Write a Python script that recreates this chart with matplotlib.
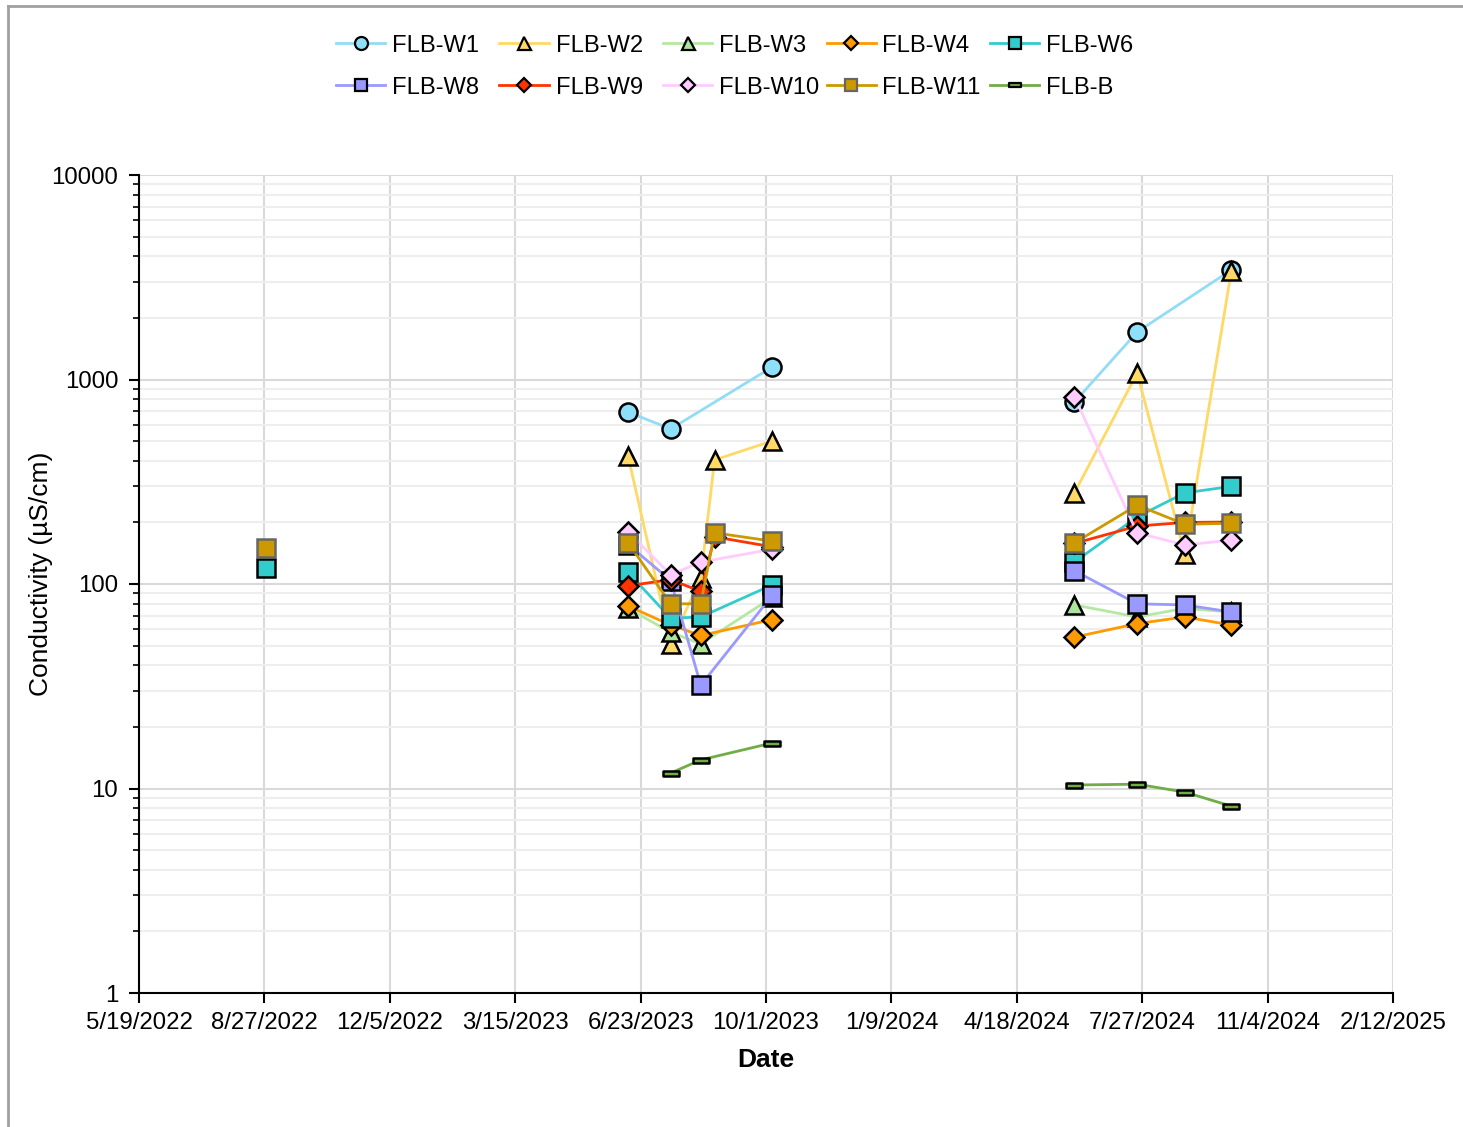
import datetime as dt
import numpy as np
import matplotlib
matplotlib.use("Agg")
import matplotlib.pyplot as plt
import matplotlib.dates as mdates
from matplotlib.lines import Line2D
from matplotlib.path import Path
from matplotlib.ticker import FixedLocator, LogLocator, NullFormatter

plt.rcParams['font.family'] = ['Liberation Sans', 'DejaVu Sans']

# sampling dates
w1_dates = ['2023-06-13', '2023-07-17', '2023-10-06', '2024-06-03', '2024-07-23', '2024-10-06']
w1_vals = [693, 573, 1151, 776, 1708, 3430]

w2_dates = ['2023-06-13', '2023-07-17', '2023-08-10', '2023-08-21', '2023-10-06',
            '2024-06-03', '2024-07-23', '2024-08-30', '2024-10-06']
w2_vals = [422, 51, 107, 404, 501, 279, 1076, 140, 3380]

w3_dates = ['2023-06-13', '2023-07-17', '2023-08-10', '2023-10-06',
            '2024-06-03', '2024-07-23', '2024-08-30', '2024-10-06']
w3_vals = [76, 58, 51, 86, 79, 69, 76, 73]

w4_dates = ['2023-06-13', '2023-07-17', '2023-08-10', '2023-10-06',
            '2024-06-03', '2024-07-23', '2024-08-30', '2024-10-06']
w4_vals = [78, 63, 56, 67, 55, 64, 69, 63]

w6_dates = ['2022-08-28', '2023-06-13', '2023-07-17', '2023-08-10', '2023-10-06',
            '2024-06-03', '2024-07-23', '2024-08-30', '2024-10-06']
w6_vals = [120, 114, 68, 69, 99, 128, 213, 279, 300]

w8_dates = ['2023-06-13', '2023-07-17', '2023-08-10', '2023-10-06',
            '2024-06-03', '2024-07-23', '2024-08-30', '2024-10-06']
w8_vals = [156, 104, 32, 88, 116, 80, 79, 73]

w9_dates = ['2023-06-13', '2023-07-17', '2023-08-10', '2023-08-21', '2023-10-06',
            '2024-06-03', '2024-07-23', '2024-08-30', '2024-10-06']
w9_vals = [98, 105, 92, 170, 152, 158, 192, 200, 201]

w10_dates = ['2023-06-13', '2023-07-17', '2023-08-10', '2023-10-06',
             '2024-06-03', '2024-07-23', '2024-08-30', '2024-10-06']
w10_vals = [180, 111, 128, 148, 821, 178, 155, 164]

w11_dates = ['2022-08-28', '2023-06-13', '2023-07-17', '2023-08-10', '2023-08-21', '2023-10-06',
             '2024-06-03', '2024-07-23', '2024-08-30', '2024-10-06']
w11_vals = [150, 159, 80, 80, 178, 162, 159, 243, 196, 198]

b_dates = ['2023-07-17', '2023-08-10', '2023-10-06',
           '2024-06-03', '2024-07-23', '2024-08-30', '2024-10-06']
b_vals = [11.9, 13.8, 16.7, 10.4, 10.5, 9.6, 8.2]

y_ticks = [1, 10, 100, 1000, 10000]
x_start = dt.date(2022, 5, 19)
x_step_days = 100
n_xticks = 11

# dash-shaped marker for the blank
dash = Path([(-1, -0.3), (1, -0.3), (1, 0.3), (-1, 0.3), (-1, -0.3)],
            [Path.MOVETO, Path.LINETO, Path.LINETO, Path.LINETO, Path.CLOSEPOLY])

series = [
    ("FLB-W1", w1_dates, w1_vals, '#92DDF5', 'o', '#8EE0FA', 'black', 13),
    ("FLB-W2", w2_dates, w2_vals, '#FFD966', '^', '#FFD966', 'black', 13),
    ("FLB-W3", w3_dates, w3_vals, '#B5E8A2', '^', '#ABE59B', 'black', 13),
    ("FLB-W4", w4_dates, w4_vals, '#FF9900', 'D', '#FF9900', 'black', 10),
    ("FLB-W6", w6_dates, w6_vals, '#33CCCC', 's', '#33CCCC', 'black', 12.5),
    ("FLB-W8", w8_dates, w8_vals, '#9999FF', 's', '#9999FF', 'black', 12.5),
    ("FLB-W9", w9_dates, w9_vals, '#FF3300', 'D', '#FF3300', 'black', 10),
    ("FLB-W10", w10_dates, w10_vals, '#FFCCFF', 'D', '#FFCCFF', 'black', 10),
    ("FLB-W11", w11_dates, w11_vals, '#CC9900', 's', '#CC9900', '#666666', 12.5),
    ("FLB-B", b_dates, b_vals, '#70AD47', dash, '#70AD47', 'black', 12),
]

W, H = 1463, 1127
fig = plt.figure(figsize=(W / 100, H / 100), dpi=100)
ax = fig.add_axes([139 / W, 1 - 993 / H, (1393 - 139) / W, (993 - 175) / H])


def with_gaps(dates, vals, max_gap=120):
    # break the line between sampling campaigns
    xs, ys = [], []
    prev = None
    for d, v in zip(dates, vals):
        day = dt.date.fromisoformat(d)
        if prev is not None and (day - prev).days > max_gap:
            xs.append(mdates.date2num(prev + dt.timedelta(days=1)))
            ys.append(np.nan)
        xs.append(mdates.date2num(day))
        ys.append(v)
        prev = day
    return xs, ys


for name, dates, vals, lc, mk, fc, ec, ms in series:
    xs, ys = with_gaps(dates, vals)
    ax.plot(xs, ys, color=lc, lw=2.0, marker=mk, markersize=ms,
            markerfacecolor=fc, markeredgecolor=ec, markeredgewidth=1.8, zorder=3)

ax.set_yscale('log')
ax.set_ylim(1, 10000)
ax.yaxis.set_major_locator(FixedLocator(y_ticks))
ax.set_yticklabels([str(v) for v in y_ticks])
ax.yaxis.set_minor_locator(LogLocator(base=10, subs=np.arange(2, 10)))
ax.yaxis.set_minor_formatter(NullFormatter())

tick_dates = [x_start + dt.timedelta(days=x_step_days * i) for i in range(n_xticks)]
ax.set_xlim(mdates.date2num(tick_dates[0]), mdates.date2num(tick_dates[-1]))
ax.set_xticks([mdates.date2num(d) for d in tick_dates])
ax.set_xticklabels([f"{d.month}/{d.day}/{d.year}" for d in tick_dates])

ax.grid(True, which='major', color='#D9D9D9', lw=1.5, zorder=0)
ax.grid(True, which='minor', axis='y', color='#EEEEEE', lw=1.5, zorder=0)
ax.set_axisbelow(True)

for s in ['top', 'right']:
    ax.spines[s].set_visible(False)
for s in ['left', 'bottom']:
    ax.spines[s].set_color('black')
    ax.spines[s].set_linewidth(1.5)

ax.tick_params(axis='both', which='major', direction='out', length=7, width=1.5,
               labelsize=17.3, colors='black')
ax.tick_params(axis='y', which='minor', direction='out', length=4, width=1.2)
ax.tick_params(axis='x', pad=6.5)
ax.tick_params(axis='y', pad=8)

ax.set_xlabel("Date", fontsize=19, fontweight='bold', labelpad=10)
ax.set_ylabel("Conductivity (µS/cm)", fontsize=19)
ax.yaxis.set_label_coords((53 - 139) / 1254, (993 - 574) / 818)

# legend: 2 rows x 5 equal-width columns, like the spreadsheet legend
leg_x0, leg_dx, leg_y0, leg_dy, leg_len = 336, 163.5, 43, 42, 49
for i, (name, dates, vals, lc, mk, fc, ec, ms) in enumerate(series):
    row, col = divmod(i, 5)
    x = leg_x0 + col * leg_dx
    y = H - (leg_y0 + row * leg_dy)
    fig.add_artist(Line2D([x / W, (x + leg_len) / W], [y / H, y / H], transform=fig.transFigure,
                          color=lc, lw=2.0))
    fig.add_artist(Line2D([(x + leg_len / 2) / W], [y / H], transform=fig.transFigure,
                          marker=mk, markersize=ms * 0.72, markerfacecolor=fc,
                          markeredgecolor=ec, markeredgewidth=1.6, lw=0))
    fig.text((x + leg_len + 7) / W, y / H, name, fontsize=17.1, ha='left', va='center_baseline')

# outer chart border (left and top edges visible)
fig.add_artist(Line2D([8 / W, 8 / W], [0, 1 - 6 / H], transform=fig.transFigure,
                      color='#A0A0A0', lw=2))
fig.add_artist(Line2D([8 / W, 1], [1 - 6 / H, 1 - 6 / H], transform=fig.transFigure,
                      color='#A0A0A0', lw=2))

fig.savefig("out.png", dpi=100)
